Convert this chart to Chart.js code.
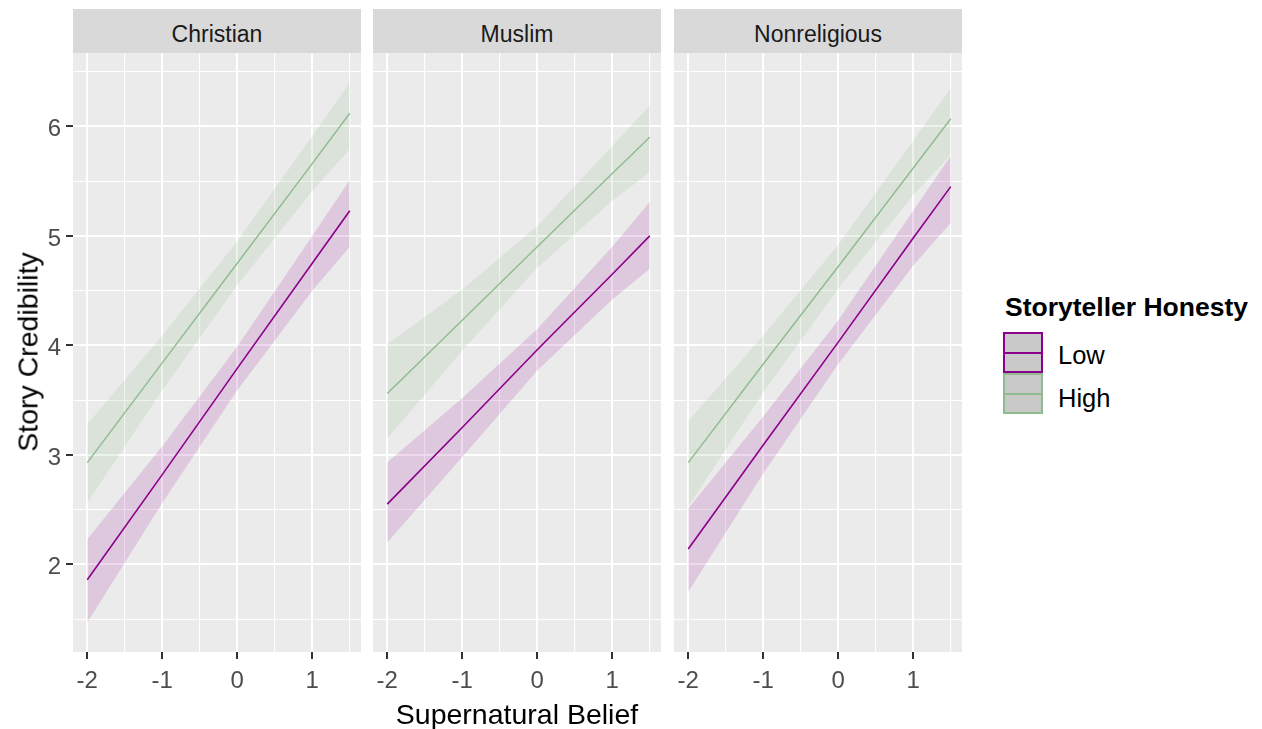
<!DOCTYPE html>
<html>
<head>
<meta charset="utf-8">
<script src="https://cdn.jsdelivr.net/npm/chart.js@4"></script>
<style>
  body { margin: 0; background: #fff; }
  #wrap { position: relative; width: 1262px; height: 729px; background: #fff; font-family: 'Liberation Sans', Arial, sans-serif; }
  .panel { position: absolute; top: 0; }
  .strip { position: absolute; top: 9px; height: 44px; background: #D9D9D9; color: #1A1A1A; font-size: 23px; line-height: 50px; text-align: center; overflow: hidden; }
  .title { position: absolute; color: #000; font-size: 28.5px; white-space: nowrap; }
  .key { position: absolute; left: 1003px; width: 40px; height: 41px; box-sizing: border-box; background: #C9C9C9; border: 2px solid; }
  .key span { position: absolute; left: 0; right: 0; top: 17.5px; height: 2px; }
  .lab { position: absolute; left: 1058px; font-size: 25.5px; line-height: 30px; color: #000; }
</style>
</head>
<body>
<div id="wrap">
  <div class="strip" style="left:73px;width:288px">Christian</div>
  <div class="strip" style="left:373px;width:288px">Muslim</div>
  <div class="strip" style="left:674px;width:288px">Nonreligious</div>

  <div class="panel" style="left:0px"><canvas id="p0" width="367" height="700"></canvas></div>
  <div class="panel" style="left:353px"><canvas id="p1" width="314" height="700"></canvas></div>
  <div class="panel" style="left:654px"><canvas id="p2" width="314" height="700"></canvas></div>

  <div class="title" style="left:517px;top:714px;transform:translate(-50%,-50%)">Supernatural Belief</div>
  <div class="title" style="left:28px;top:352px;transform:translate(-50%,-50%) rotate(-90deg)">Story Credibility</div>

  <div class="title" style="left:1005px;top:292px;font-size:26.5px;font-weight:bold;line-height:30px">Storyteller Honesty</div>
  <div class="key" style="top:332px;border-color:#8B008B"><span style="background:#8B008B"></span></div>
  <div class="key" style="top:373px;border-color:#8FBC8F"><span style="background:#8FBC8F"></span></div>
  <div class="lab" style="top:340px">Low</div>
  <div class="lab" style="top:383px">High</div>
</div>
<script>
const xPoints = [-2, -1, 0, 1, 1.5];
const xTicks = [-2, -1.5, -1, -0.5, 0, 0.5, 1, 1.5];
const yTicks = [1.5, 2, 2.5, 3, 3.5, 4, 4.5, 5, 5.5, 6, 6.5];

// Christian
const christianLowFit = [1.86, 2.82, 3.79, 4.75, 5.23];
const christianLowLower = [1.47, 2.56, 3.59, 4.50, 4.90];
const christianLowUpper = [2.23, 3.08, 3.99, 5.00, 5.51];
const christianHighFit = [2.93, 3.84, 4.75, 5.66, 6.12];
const christianHighLower = [2.56, 3.59, 4.55, 5.41, 5.79];
const christianHighUpper = [3.28, 4.09, 4.95, 5.91, 6.40];

// Muslim
const muslimLowFit = [2.55, 3.25, 3.96, 4.65, 5.00];
const muslimLowLower = [2.20, 2.98, 3.77, 4.42, 4.70];
const muslimLowUpper = [2.93, 3.52, 4.15, 4.90, 5.31];
const muslimHighFit = [3.56, 4.23, 4.90, 5.57, 5.90];
const muslimHighLower = [3.15, 3.95, 4.71, 5.32, 5.58];
const muslimHighUpper = [4.01, 4.51, 5.09, 5.82, 6.19];

// Nonreligious
const nonrelLowFit = [2.14, 3.09, 4.03, 4.98, 5.45];
const nonrelLowLower = [1.75, 2.83, 3.83, 4.73, 5.12];
const nonrelLowUpper = [2.51, 3.35, 4.23, 5.23, 5.73];
const nonrelHighFit = [2.93, 3.83, 4.72, 5.62, 6.07];
const nonrelHighLower = [2.53, 3.57, 4.52, 5.37, 5.74];
const nonrelHighUpper = [3.31, 4.09, 4.92, 5.87, 6.35];

const lowColor = "#8B008B";
const highColor = "#8FBC8F";
const lowFill = "rgba(139,0,139,0.15)";
const highFill = "rgba(143,188,143,0.18)";
const fontFamily = "'Liberation Sans', Arial, sans-serif";

const panels = [
  { id: "p0", showY: true, padLeft: 0, yWidth: 73,
    low: [christianLowFit, christianLowLower, christianLowUpper],
    high: [christianHighFit, christianHighLower, christianHighUpper] },
  { id: "p1", showY: false, padLeft: 20, yWidth: 0,
    low: [muslimLowFit, muslimLowLower, muslimLowUpper],
    high: [muslimHighFit, muslimHighLower, muslimHighUpper] },
  { id: "p2", showY: false, padLeft: 20, yWidth: 0,
    low: [nonrelLowFit, nonrelLowLower, nonrelLowUpper],
    high: [nonrelHighFit, nonrelHighLower, nonrelHighUpper] },
];

const pts = (ys) => xPoints.map((x, i) => ({ x: x, y: ys[i] }));
const isMajor = (v) => Number.isInteger(v);

// grey panel background, like theme_gray
const panelBg = {
  id: "panelBg",
  beforeDraw(chart) {
    const a = chart.chartArea;
    chart.ctx.save();
    chart.ctx.fillStyle = "#EBEBEB";
    chart.ctx.fillRect(a.left, a.top, a.right - a.left, a.bottom - a.top);
    chart.ctx.restore();
  },
};

function band(ys, fill) {
  return {
    data: pts(ys), borderWidth: 0, borderColor: "transparent",
    pointRadius: 0, backgroundColor: fill, fill: fill ? "-1" : false,
  };
}

panels.forEach((p) => {
  const datasets = [
    { data: pts(p.low[0]), borderColor: lowColor, borderWidth: 1.6, pointRadius: 0, fill: false },
    { data: pts(p.high[0]), borderColor: highColor, borderWidth: 1.4, pointRadius: 0, fill: false },
    band(p.low[2], null),
    band(p.low[1], lowFill),
    band(p.high[2], null),
    band(p.high[1], highFill),
  ];

  new Chart(document.getElementById(p.id), {
    type: "line",
    data: { datasets: datasets },
    plugins: [panelBg],
    options: {
      responsive: false,
      animation: false,
      layout: { padding: { top: 53, left: p.padLeft, right: 6, bottom: 0 } },
      plugins: { legend: { display: false }, tooltip: { enabled: false } },
      scales: {
        x: {
          type: "linear", min: -2.19, max: 1.65,
          afterBuildTicks: (s) => { s.ticks = xTicks.map((v) => ({ value: v })); },
          afterFit: (s) => { s.height = 48; },
          border: { display: false },
          grid: {
            color: "#FFFFFF",
            lineWidth: (c) => (c.tick && isMajor(c.tick.value) ? 2 : 1.1),
            tickLength: 7,
            tickWidth: 2,
            tickColor: (c) => (c.tick && isMajor(c.tick.value) ? "#333333" : "rgba(0,0,0,0)"),
          },
          ticks: {
            autoSkip: false, maxRotation: 0, padding: 8, color: "#4D4D4D",
            font: { family: fontFamily, size: 24 },
            callback: (v) => (isMajor(v) ? v : ""),
          },
        },
        y: {
          type: "linear", min: 1.2, max: 6.67,
          afterBuildTicks: (s) => { s.ticks = yTicks.map((v) => ({ value: v })); },
          afterFit: (s) => { s.width = p.yWidth; },
          border: { display: false },
          grid: {
            color: "#FFFFFF",
            lineWidth: (c) => (c.tick && isMajor(c.tick.value) ? 2 : 1.1),
            drawTicks: p.showY,
            tickLength: 7,
            tickWidth: 2,
            tickColor: (c) => (c.tick && isMajor(c.tick.value) ? "#333333" : "rgba(0,0,0,0)"),
          },
          ticks: {
            display: p.showY, autoSkip: false, padding: 5, labelOffset: 3, color: "#4D4D4D",
            font: { family: fontFamily, size: 24 },
            callback: (v) => (isMajor(v) ? v : ""),
          },
        },
      },
    },
  });
});
</script>
</body>
</html>
